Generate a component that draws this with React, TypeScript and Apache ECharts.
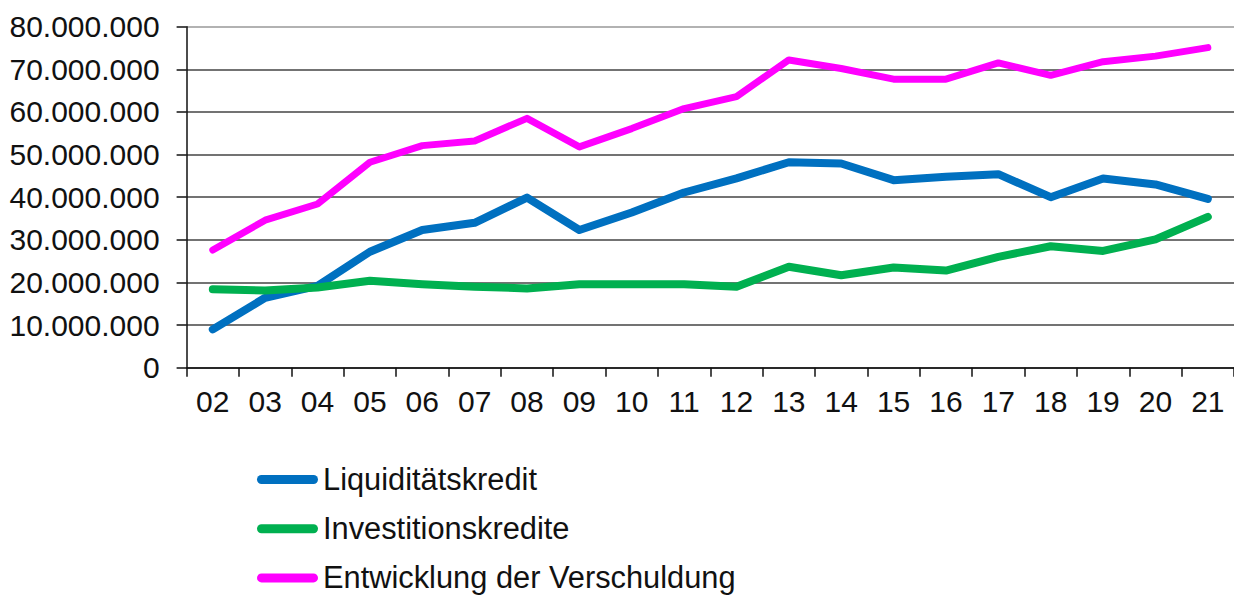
import React, { useEffect, useRef } from "react";
import * as echarts from "echarts";

const categories = ["02","03","04","05","06","07","08","09","10","11","12","13","14","15","16","17","18","19","20","21"];
const liquiditaet = [9.0,16.4,19.2,27.2,32.3,34.0,39.9,32.3,36.4,41.1,44.4,48.2,47.9,44.0,44.8,45.4,40.0,44.4,43.0,39.6].map(v => v * 1e6);
const investition = [18.4,18.1,18.8,20.4,19.6,19.0,18.6,19.6,19.6,19.6,19.0,23.7,21.7,23.5,22.8,26.0,28.5,27.4,30.1,35.4].map(v => v * 1e6);
const entwicklung = [27.6,34.6,38.4,48.2,52.1,53.2,58.5,51.8,56.1,60.8,63.6,72.2,70.2,67.7,67.7,71.5,68.6,71.8,73.1,75.1].map(v => v * 1e6);
const seriesNames = ["Liquiditätskredit", "Investitionskredite", "Entwicklung der Verschuldung"];
const seriesColors = ["#0070C0", "#00B050", "#FF00FF"];

const FONT = "'Liberation Sans', Arial, sans-serif";
const pill = "path://M4.5,0 L56.5,0 A4.5,4.5 0 0 1 56.5,9 L4.5,9 A4.5,4.5 0 0 1 4.5,0 Z";

function fmt(v: number): string {
  return String(Math.round(v)).replace(/\B(?=(\d{3})+(?!\d))/g, ".");
}

export default function App() {
  const ref = useRef<HTMLDivElement>(null);
  useEffect(() => {
    if (!ref.current) return;
    const chart = echarts.init(ref.current, null, { renderer: "svg" });
    const data = [liquiditaet, investition, entwicklung];
    chart.setOption({
      animation: false,
      backgroundColor: "#ffffff",
      textStyle: { fontFamily: FONT },
      grid: { left: 186.6, top: 26.7, width: 1054.4, height: 341, containLabel: false },
      legend: {
        orient: "vertical",
        left: 257,
        top: 464,
        height: 200,
        width: 700,
        padding: 0,
        icon: pill,
        itemWidth: 61,
        itemHeight: 9,
        itemGap: 18.2,
        symbolKeepAspect: false,
        itemStyle: { borderWidth: 0 },
        textStyle: { fontFamily: FONT, fontSize: 30.8, color: "#111" },
        data: seriesNames,
      },
      xAxis: {
        type: "category",
        data: categories,
        boundaryGap: true,
        axisLine: { show: true, lineStyle: { color: "#111", width: 1.5 } },
        axisTick: { show: true, length: 9, inside: false, alignWithLabel: false, lineStyle: { color: "#111", width: 1.5 } },
        axisLabel: { fontFamily: FONT, fontSize: 30, color: "#111", margin: 19, interval: 0 },
        splitLine: { show: false },
      },
      yAxis: {
        type: "value",
        min: 0,
        max: 80000000,
        interval: 10000000,
        axisLine: { show: true, lineStyle: { color: "#111", width: 1.5 } },
        axisTick: { show: true, length: 10, inside: false, lineStyle: { color: "#111", width: 1.5 } },
        axisLabel: { fontFamily: FONT, fontSize: 30, color: "#111", margin: 27, formatter: (v: number) => fmt(v) },
        splitLine: {
          show: true,
          lineStyle: { color: ["#444", "#444", "#444", "#444", "#444", "#444", "#444", "#444", "#999"], width: 1.5 },
        },
      },
      series: seriesNames.map((name, i) => ({
        name,
        type: "line",
        data: data[i],
        symbol: "none",
        color: seriesColors[i],
        itemStyle: { color: seriesColors[i] },
        lineStyle: { color: seriesColors[i], width: i === 2 ? 7 : 8, cap: "round", join: "round" },
        z: 2 + i,
      })),
    });
    return () => chart.dispose();
  }, []);
  return (
    <div
      ref={ref}
      style={{ position: "fixed", left: 0, top: 0, width: 1234, height: 595, background: "#fff" }}
    />
  );
}
